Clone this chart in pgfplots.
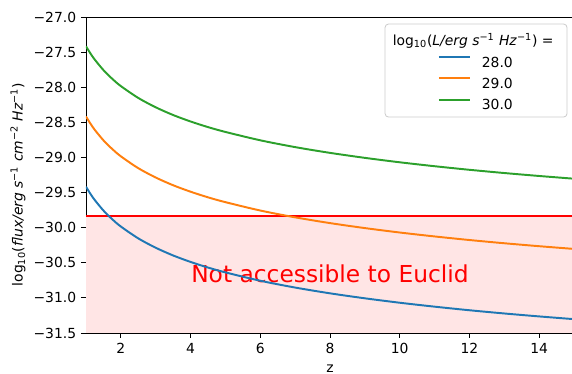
\documentclass[border=0pt]{standalone}
\usepackage{fontspec}
\setmainfont{DejaVu Sans}
\usepackage{pgfplots}
\pgfplotsset{compat=1.18}
\definecolor{tabblue}{HTML}{1F77B4}
\definecolor{taborange}{HTML}{FF7F0E}
\definecolor{tabgreen}{HTML}{2CA02C}
\definecolor{fillpink}{HTML}{FFE5E5}
\definecolor{legedge}{HTML}{CCCCCC}
\begin{document}
\begin{tikzpicture}
\begin{axis}[
  at={(0pt,0pt)}, anchor=south west,
  scale only axis, width=351.36pt, height=227.52pt,
  xmin=1, xmax=15, ymin=-31.5, ymax=-27,
  xtick={2,4,6,8,10,12,14},
  ytick={-31.5,-31,-30.5,-30,-29.5,-29,-28.5,-28,-27.5,-27},
  yticklabels={−31.5,−31.0,−30.5,−30.0,−29.5,−29.0,−28.5,−28.0,−27.5,−27.0},
  /pgf/number format/assume math mode=true,
  tick pos=left, tick align=outside,
  major tick length=3.6pt,
  every tick/.style={black, line width=0.6pt},
  axis line style={black, line width=0.6pt},
  xlabel={z},
  xlabel style={at={(axis description cs:0.5,0)}, anchor=base, yshift=-28.5pt},
  ylabel={log\textsubscript{10}(\textit{flux/erg s}\textsuperscript{−1} \textit{cm}\textsuperscript{−2} \textit{Hz}\textsuperscript{−1})},
  ylabel style={at={(axis description cs:-0.1393,0.47)}, anchor=center},
  legend style={at={(0.7213,0.8766)}, anchor=north west, draw=none, fill=none,
    inner sep=0pt, outer sep=0pt, row sep=7.4pt, column sep=7.9pt,
    nodes={inner sep=0pt, text height=7.3pt, text depth=0pt}},
  legend cell align=left,
  legend image code/.code={\draw[#1] (0pt,3.6pt) -- (22.3pt,3.6pt);},
]
\addplot[draw=none, fill=fillpink, forget plot] coordinates {(1,-31.5) (15,-31.5) (15,-29.84) (1,-29.84)} -- cycle;
\addplot[red, line width=1.4pt, forget plot] coordinates {(1,-29.84) (15,-29.84)};
\node[text=red, font=\fontsize{16.8}{20}\selectfont, anchor=base] at (axis cs:8.0,-30.78) {Not accessible to Euclid};
\addplot[tabblue, line width=1.4pt, smooth] coordinates {
(1,-29.417) (1.125,-29.517) (1.25,-29.606) (1.5,-29.756) (1.75,-29.879) (2,-29.984)
(2.5,-30.153) (3,-30.286) (3.5,-30.396) (4,-30.488) (4.5,-30.568) (5,-30.637)
(6,-30.756) (7,-30.853) (8,-30.935) (9,-31.006) (10,-31.069) (11,-31.125)
(12,-31.176) (13,-31.222) (14,-31.264) (15,-31.303)};
\addlegendentry{28.0}
\addplot[taborange, line width=1.4pt, smooth] coordinates {
(1,-28.417) (1.125,-28.517) (1.25,-28.606) (1.5,-28.756) (1.75,-28.879) (2,-28.984)
(2.5,-29.153) (3,-29.286) (3.5,-29.396) (4,-29.488) (4.5,-29.568) (5,-29.637)
(6,-29.756) (7,-29.853) (8,-29.935) (9,-30.006) (10,-30.069) (11,-30.125)
(12,-30.176) (13,-30.222) (14,-30.264) (15,-30.303)};
\addlegendentry{29.0}
\addplot[tabgreen, line width=1.4pt, smooth] coordinates {
(1,-27.417) (1.125,-27.517) (1.25,-27.606) (1.5,-27.756) (1.75,-27.879) (2,-27.984)
(2.5,-28.153) (3,-28.286) (3.5,-28.396) (4,-28.488) (4.5,-28.568) (5,-28.637)
(6,-28.756) (7,-28.853) (8,-28.935) (9,-29.006) (10,-29.069) (11,-29.125)
(12,-29.176) (13,-29.222) (14,-29.264) (15,-29.303)};
\addlegendentry{30.0}
\draw[rounded corners=2.5pt, draw=legedge, line width=0.6pt, fill=white] (axis cs:9.58,-28.425) rectangle (axis cs:14.80,-27.10);
\node[anchor=base] at (axis cs:12.107,-27.40) {log\textsubscript{10}(\textit{L/erg s}\textsuperscript{−1} \textit{Hz}\textsuperscript{−1}) =};
\end{axis}
\pgfresetboundingbox
\useasboundingbox (-61.92pt,-29.52pt) rectangle (349.92pt,239.76pt);
\end{tikzpicture}
\end{document}
